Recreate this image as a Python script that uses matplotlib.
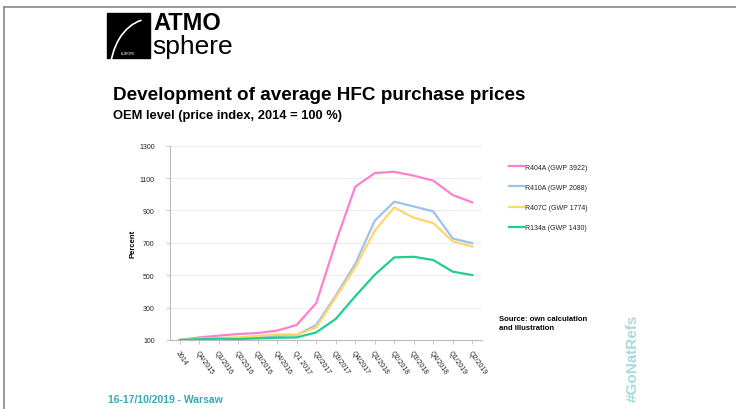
import numpy as np
import matplotlib
matplotlib.use("Agg")
import matplotlib.pyplot as plt
from matplotlib.patches import Rectangle, Arc

plt.rcParams["font.family"] = ["Liberation Sans", "DejaVu Sans"]

# quarter labels on the x axis
quarters = ["2014", "Q4/2015", "Q1/2016", "Q2/2016", "Q3/2016", "Q4/2016",
            "Q1 2017", "Q2/2017", "Q3/2017", "Q4/2017", "Q1/2018", "Q2/2018",
            "Q3/2018", "Q4/2018", "Q1/2019", "Q2/2019"]

# price index, 2014 = 100
r404a = [100, 116, 127, 137, 143, 158, 193, 328, 703, 1047, 1131, 1139, 1115, 1084, 995, 950]
r410a = [100, 110, 110, 112, 118, 125, 131, 193, 374, 570, 837, 954, 925, 894, 727, 698]
r407c = [100, 108, 112, 117, 125, 135, 133, 178, 363, 548, 775, 919, 855, 822, 709, 678]
r134a = [100, 105, 108, 106, 110, 114, 116, 147, 230, 370, 503, 610, 614, 594, 522, 501]

series_names = ["R404A (GWP 3922)", "R410A (GWP 2088)", "R407C (GWP 1774)", "R134a (GWP 1430)"]
series_colors = ["#ff7fd0", "#9cc3ea", "#ffd66b", "#1fcf8a"]

yticks = [100, 300, 500, 700, 900, 1100, 1300]

W, H = 736, 410
fig = plt.figure(figsize=(W / 100, H / 100), dpi=100)

# slide frame
fig.add_artist(plt.Line2D([4 / W, 1], [1 - 7.5 / H, 1 - 7.5 / H], color="#888888", lw=1.2))
fig.add_artist(plt.Line2D([4 / W, 4 / W], [0, 1 - 7.5 / H], color="#888888", lw=1.2))

# logo
fig.add_artist(Rectangle((107 / W, 1 - 59 / H), 43 / W, 45 / H, color="black"))
fig.add_artist(Arc((150 / W, 1 - 75 / H), 80 / W, 110 / H, theta1=95, theta2=175,
                   color="white", lw=1.2))
fig.text(128 / W, 1 - 54 / H, "EUROPE", color="white", fontsize=2.5,
         ha="center", va="center")
fig.text(153 / W, 1 - 23 / H, "ATMO", fontsize=17, fontweight="bold",
         ha="left", va="center")
fig.text(152 / W, 1 - 47 / H, "sphere", fontsize=19, ha="left", va="center")

# titles
fig.text(113 / W, 1 - 95 / H, "Development of average HFC purchase prices",
         fontsize=13.6, fontweight="bold", ha="left", va="center")
fig.text(113 / W, 1 - 116 / H, "OEM level (price index, 2014 = 100 %)",
         fontsize=9.3, fontweight="bold", ha="left", va="center")

ax = fig.add_axes([170 / W, 69 / H, 312 / W, 194.3 / H])
x = np.arange(len(quarters))
for vals, name, col in zip([r404a, r410a, r407c, r134a], series_names, series_colors):
    ax.plot(x, vals, color=col, lw=1.6, label=name)

ax.set_xlim(-0.5, len(quarters) - 0.5)
ax.set_ylim(100, 1300)
ax.set_yticks(yticks)
ax.set_yticklabels([str(v) for v in yticks], fontsize=5)
ax.set_xticks(x)
ax.set_xticklabels(quarters, fontsize=5, rotation=-55, ha="left", rotation_mode="anchor")
ax.grid(axis="y", color="#eeeeee", lw=0.8)
ax.set_axisbelow(True)
for s in ["top", "right"]:
    ax.spines[s].set_visible(False)
for s in ["left", "bottom"]:
    ax.spines[s].set_color("#bbbbbb")
    ax.spines[s].set_linewidth(0.8)
ax.tick_params(axis="both", colors="#bbbbbb", length=3, width=0.6, labelcolor="#222222")
ax.tick_params(axis="y", pad=8)
ax.set_ylabel("Percent", fontsize=5.5, fontweight="bold", labelpad=2)

leg = ax.legend(loc="upper left", bbox_to_anchor=(1.065, 0.94), frameon=False,
                fontsize=5, handlelength=2.2, handletextpad=0.1, labelspacing=1.9)
for t in leg.get_texts():
    t.set_color("#222222")

fig.text(499 / W, 1 - 324 / H, "Source: own calculation\nand illustration",
         fontsize=5.5, fontweight="bold", ha="left", va="center", linespacing=1.3)

fig.text(108 / W, 1 - 400 / H, "16-17/10/2019 - Warsaw", color="#3aa6b9",
         fontsize=7.5, fontweight="bold", ha="left", va="center")
fig.text(633 / W, 1 - 358 / H, "#GoNatRefs", color="#a9d9dc", fontsize=11,
         fontweight="bold", rotation=90, ha="center", va="center")

fig.savefig("out.png", dpi=100)
